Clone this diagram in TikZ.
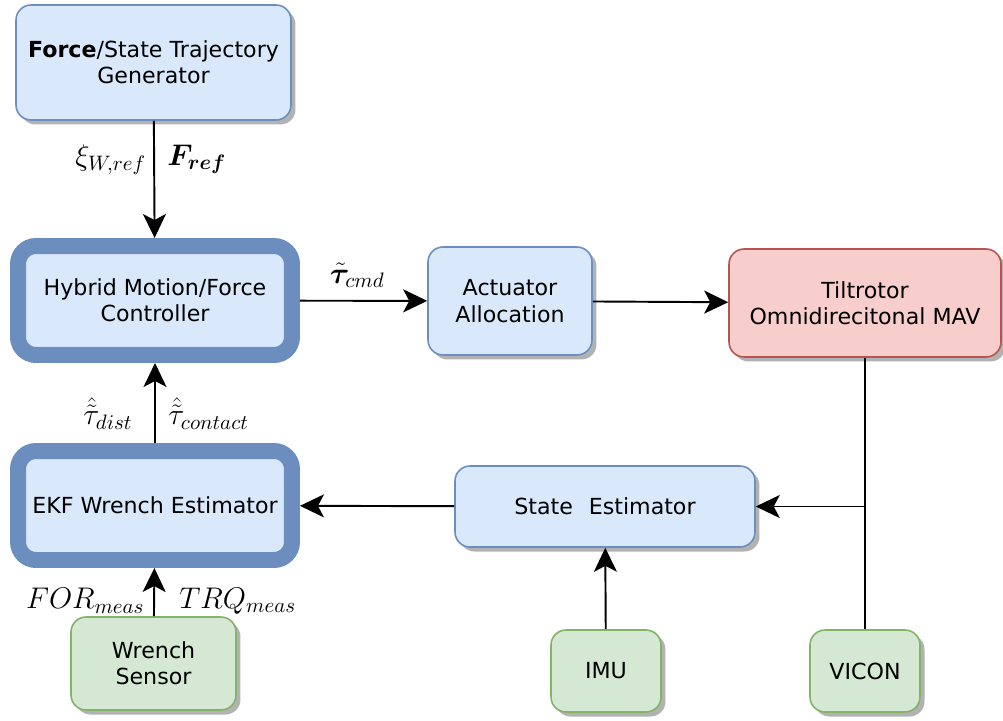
\RequirePackage{fix-cm}
\documentclass[tikz,border=0pt]{standalone}
\usepackage[no-math]{fontspec}
\setmainfont{DejaVu Sans}
\usepackage{amsmath,bm}
\usetikzlibrary{arrows.meta,shadows}

\definecolor{blfill}{HTML}{DAE8FC}
\definecolor{bldraw}{HTML}{6C8EBF}
\definecolor{grfill}{HTML}{D5E8D4}
\definecolor{grdraw}{HTML}{82B366}
\definecolor{rdfill}{HTML}{F8CECC}
\definecolor{rddraw}{HTML}{B85450}

\begin{document}
\begin{tikzpicture}%
	[x=0.02cm, y=-0.02cm,
	font=\fontsize{12.6}{15}\selectfont,
	shade/.style={drop shadow={shadow xshift=0.09cm, shadow yshift=-0.09cm, fill=black!30, opacity=1}},
	block/.style={draw=bldraw, fill=blfill, line width=0.9pt, rounded corners=0.3cm, align=center, shade},
	mainblock/.style={draw=bldraw, fill=blfill, line width=0.32cm, rounded corners=0.36cm, align=center, shade},
	sensor/.style={draw=grdraw, fill=grfill, line width=0.9pt, rounded corners=0.3cm, align=center, shade},
	plant/.style={draw=rddraw, fill=rdfill, line width=0.9pt, rounded corners=0.3cm, align=center, shade},
	flow/.style={line width=1.1pt, -{Stealth[length=4.8mm, width=4.6mm, inset=1.2mm]}},
	wire/.style={line width=1.1pt},
	lbl/.style={font=\fontsize{17}{19}\selectfont, inner sep=1pt}]
%
\useasboundingbox (0,0) rectangle (1003,720);
%%
%% Blocks
%%
\node[block, minimum width=5.5cm, minimum height=2.3cm] (gen) at (153.5,62.5)
	{\textbf{Force}/State Trajectory\\Generator};
\node[mainblock, minimum width=5.48cm, minimum height=2.18cm] (hyb) at (155,300.5)
	{Hybrid Motion/Force\\Controller};
\node[mainblock, minimum width=5.48cm, minimum height=2.18cm] (ekf) at (155,505.5)
	{EKF Wrench Estimator};
\node[block, minimum width=3.28cm, minimum height=2.16cm] (act) at (510,301)
	{Actuator\\Allocation};
\node[plant, minimum width=5.44cm, minimum height=2.16cm] (mav) at (865,303)
	{Tiltrotor\\Omnidirecitonal MAV};
\node[block, minimum width=6cm, minimum height=1.62cm] (est) at (605,506.5)
	{State\hspace{0.4em} Estimator};
\node[sensor, minimum width=3.3cm, minimum height=1.86cm] (wrs) at (153.5,663.5)
	{Wrench\\Sensor};
\node[sensor, minimum width=2.2cm, minimum height=1.64cm] (imu) at (606,671) {IMU};
\node[sensor, minimum width=2.2cm, minimum height=1.64cm] (vicon) at (865,671) {VICON};
%%
%% Signals
%%
\draw[flow] (gen) --
	node[lbl, pos=0.33, left=3pt] {$\xi_{W,ref}$}
	node[lbl, pos=0.33, right=6pt] {$\bm{F_{ref}}$} (hyb);
\draw[flow] (hyb) -- node[lbl, above=6pt, pos=0.45] {$\tilde{\bm{\tau}}_{cmd}$} (act);
\draw[flow] (act) -- (mav);
\draw[flow] (ekf) --
	node[lbl, pos=0.37, left=0.4cm] {$\hat{\tilde{\tau}}_{dist}$}
	node[lbl, pos=0.37, right=6pt] {$\hat{\tilde{\tau}}_{contact}$} (hyb);
\draw[flow] (wrs) --
	node[lbl, pos=0.32, left=4pt] {$FOR_{meas}$}
	node[lbl, pos=0.32, right=0.45cm] {$TRQ_{meas}$} (ekf);
\draw[flow] (est) -- (ekf);
\draw[flow] (imu) -- (est);
\coordinate (jn) at (vicon.north |- est.east);
\draw[wire] (mav.south) -- (vicon.north);
\draw[flow] (jn) -- (est.east);

\end{tikzpicture}
\end{document}
